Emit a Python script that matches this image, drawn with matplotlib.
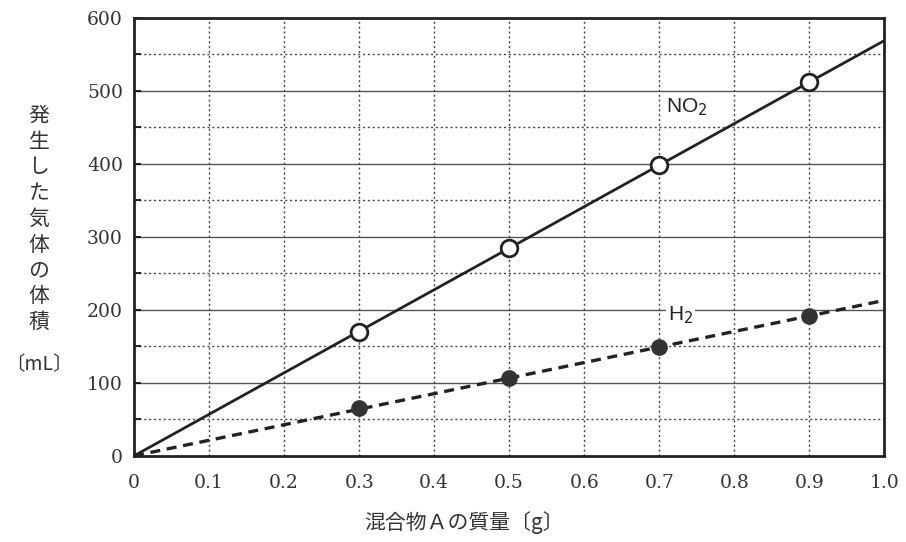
import numpy as np
import matplotlib.pyplot as plt

# 混合物Aの質量 [g]
mass = [0.3, 0.5, 0.7, 0.9]
no2_vol = [170, 285, 398, 512]
h2_vol = [65, 107, 149, 191]

x_ticks = [0, 0.1, 0.2, 0.3, 0.4, 0.5, 0.6, 0.7, 0.8, 0.9, 1.0]
x_labels = ['0', '0.1', '0.2', '0.3', '0.4', '0.5', '0.6', '0.7', '0.8', '0.9', '1.0']
y_ticks = [0, 100, 200, 300, 400, 500, 600]

JP = ['Noto Sans CJK JP', 'DejaVu Sans']
SERIF = 'DejaVu Serif'


def origin_fit(x, y):
    x = np.asarray(x)
    y = np.asarray(y)
    return (x * y).sum() / (x * x).sum()


def main():
    fig = plt.figure(figsize=(9.06, 5.42), dpi=100)
    ax = fig.add_axes([0.148, 0.159, 0.828, 0.808])

    ax.set_xlim(0, 1.0)
    ax.set_ylim(0, 600)

    # grid
    for yv in np.arange(50, 600, 100):
        ax.axhline(yv, color='#444', lw=1.0, ls=(0, (1.5, 2)), zorder=1)
    for yv in y_ticks[1:-1]:
        ax.axhline(yv, color='#555', lw=1.0, zorder=1)
    for xv in x_ticks[1:-1]:
        ax.axvline(xv, color='#444', lw=1.0, ls=(0, (1.5, 2)), zorder=1)

    # fitted lines through origin
    xs = np.array([0, 1.0])
    k_no2 = origin_fit(mass, no2_vol)
    k_h2 = origin_fit(mass, h2_vol)
    ax.plot(xs, k_no2 * xs, color='#222', lw=2.0, zorder=3)
    ax.plot(xs, k_h2 * xs, color='#222', lw=2.4, ls=(0, (3, 2)), zorder=3)

    ax.plot(mass, no2_vol, 'o', ms=12, mfc='white', mec='#222', mew=2.0, zorder=4)
    ax.plot(mass, h2_vol, 'o', ms=11, mfc='#333', mec='#333', zorder=4)

    ax.text(0.709, 477, r'NO$_2$', fontsize=15, family=['Liberation Sans'],
            color='#222', ha='left', va='center', zorder=5)
    ax.text(0.712, 192, r'H$_2$', fontsize=15, family=['Liberation Sans'],
            color='#222', ha='left', va='center', zorder=5,
            bbox=dict(facecolor='white', edgecolor='none', pad=1.5))

    ax.set_xticks(x_ticks)
    ax.set_xticklabels(x_labels, family=SERIF, fontsize=13.5, color='#333')
    ax.set_yticks(y_ticks)
    ax.set_yticklabels([str(v) for v in y_ticks], family=SERIF, fontsize=13.5, color='#333')
    ax.set_yticks(np.arange(50, 600, 100), minor=True)
    ax.tick_params(axis='y', which='both', direction='in', length=5, width=1.2, pad=8)
    ax.tick_params(axis='x', length=0, pad=13)

    for s in ax.spines.values():
        s.set_linewidth(2.0)
        s.set_color('#222')

    fig.text(0.512, 0.036, '混合物Ａの質量〔g〕', family=JP, fontsize=15,
             ha='center', va='center', color='#333')
    fig.text(0.043, 0.596, '発\n生\nし\nた\n気\n体\nの\n体\n積', family=JP,
             fontsize=15, ha='center', va='center', color='#333', linespacing=1.22)
    fig.text(0.043, 0.328, '〔mL〕', family=JP, fontsize=14, ha='center',
             va='center', color='#333')

    fig.savefig('out.png', dpi=100)


if __name__ == '__main__':
    main()
